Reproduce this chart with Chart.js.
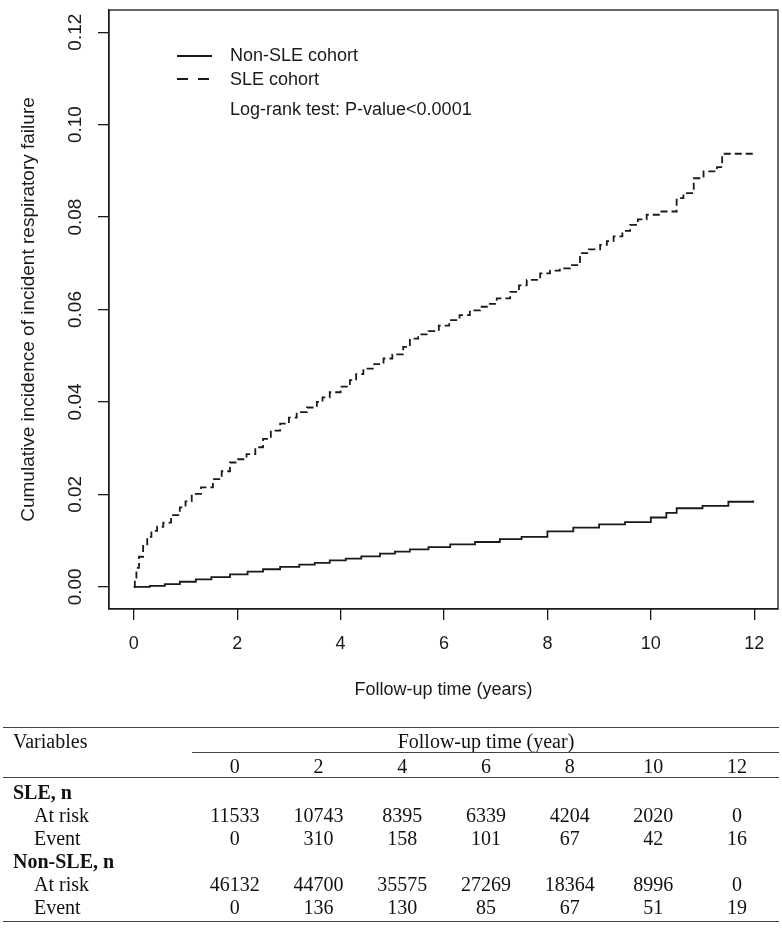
<!DOCTYPE html>
<html>
<head>
<meta charset="utf-8">
<script src="https://cdn.jsdelivr.net/npm/chart.js@4.4.1/dist/chart.umd.min.js"></script>
<style>
html,body{margin:0;padding:0;background:#fff;}
#wrap{position:relative;width:782px;height:934px;overflow:hidden;}
#chartBox{position:absolute;left:0;top:0;width:782px;height:712px;}
#tbl{position:absolute;left:0;top:0;width:782px;height:934px;font-family:"Liberation Serif","Times New Roman",serif;font-size:20px;color:#111;}
.t{position:absolute;line-height:24px;height:24px;white-space:nowrap;}
.c{text-align:center;width:100px;}
.b{font-weight:bold;}
.rule{position:absolute;height:1px;background:#444;}
</style>
</head>
<body>
<div id="wrap">
  <div id="chartBox"><canvas id="c"></canvas></div>
  <div id="tbl"></div>
</div>
<script>
// ---------- data ----------
const sleTimes = [0,0.02,0.05,0.1,0.18,0.26,0.34,0.45,0.57,0.72,0.89,1.0,1.12,1.3,1.53,1.7,1.86,2.0,2.18,2.35,2.5,2.65,2.83,3.0,3.15,3.35,3.54,3.65,3.79,4.0,4.18,4.3,4.44,4.65,4.83,5.0,5.21,5.34,5.5,5.7,5.9,6.1,6.3,6.5,6.7,6.85,7.02,7.28,7.45,7.6,7.86,8.05,8.24,8.44,8.63,8.8,9.02,9.15,9.28,9.45,9.6,9.75,9.92,10.18,10.5,10.63,10.83,11.02,11.28,11.38,11.98];
const sleCum   = [0,0.002,0.0041,0.0065,0.0092,0.0108,0.0121,0.013,0.0139,0.0155,0.0172,0.0185,0.0201,0.0215,0.0233,0.025,0.0269,0.0276,0.0287,0.0302,0.032,0.0338,0.0353,0.0366,0.0378,0.0388,0.04,0.041,0.0421,0.0433,0.0447,0.046,0.0472,0.0482,0.0494,0.0503,0.0519,0.0537,0.0546,0.0553,0.0565,0.0577,0.0588,0.0598,0.0606,0.0612,0.0624,0.0638,0.0652,0.0664,0.0678,0.0684,0.0689,0.0696,0.0722,0.073,0.074,0.0748,0.0758,0.077,0.0783,0.0795,0.0805,0.0812,0.0841,0.0852,0.0884,0.0899,0.0908,0.0937,0.0937];
const nonTimes = [0,0.2,0.31,0.6,0.89,1.2,1.5,1.86,2.2,2.5,2.83,3.2,3.5,3.79,4.1,4.4,4.76,5.05,5.34,5.7,6.12,6.6,7.08,7.5,8.0,8.5,9.0,9.5,10.0,10.3,10.5,11.0,11.5,11.98];
const nonCum   = [0,0,0.0002,0.0006,0.0011,0.0016,0.0021,0.0027,0.0033,0.0038,0.0043,0.0048,0.0052,0.0057,0.0061,0.0066,0.0072,0.0076,0.0081,0.0086,0.0092,0.0097,0.0103,0.0108,0.012,0.0128,0.0135,0.014,0.015,0.016,0.017,0.0175,0.0184,0.0187];
const seriesNames = ["Non-SLE cohort","SLE cohort"];
const pValueText = "Log-rank test: P-value<0.0001";
const xTicks = [0,2,4,6,8,10,12];
const yTicks = [0,0.02,0.04,0.06,0.08,0.10,0.12];
const yTickLabels = ["0.00","0.02","0.04","0.06","0.08","0.10","0.12"];
const xTitle = "Follow-up time (years)";
const yTitle = "Cumulative incidence of incident respiratory failure";

const tableYears = [0,2,4,6,8,10,12];
const sleAtRisk = [11533,10743,8395,6339,4204,2020,0];
const sleEvent  = [0,310,158,101,67,42,16];
const nonAtRisk = [46132,44700,35575,27269,18364,8996,0];
const nonEvent  = [0,136,130,85,67,51,19];

// ---------- chart ----------
const FONT = '"Liberation Sans", Arial, sans-serif';
const INK = '#1a1a1a';
const toPts = (xs, ys) => xs.map((x,i)=>({x:x, y:ys[i]}));

const rStyle = {
  id:'rStyle',
  afterDraw(chart){
    const ctx = chart.ctx, a = chart.chartArea;
    const ys = chart.scales.y;
    ctx.save();
    ctx.strokeStyle = INK; ctx.lineWidth = 1.3;
    ctx.strokeRect(a.left, a.top, a.right-a.left, a.bottom-a.top);
    ctx.fillStyle = INK;
    // y tick labels, rotated (R style)
    ctx.font = '19px ' + FONT;
    ctx.textAlign = 'center'; ctx.textBaseline = 'middle';
    yTicks.forEach((v,i)=>{
      const py = ys.getPixelForValue(v);
      ctx.save(); ctx.translate(76, py); ctx.rotate(-Math.PI/2);
      ctx.fillText(yTickLabels[i], 0, 0); ctx.restore();
    });
    // y title
    ctx.save(); ctx.translate(29, (a.top+a.bottom)/2); ctx.rotate(-Math.PI/2);
    ctx.font = '19px ' + FONT; ctx.fillText(yTitle, 0, 0); ctx.restore();
    // x title
    ctx.font = '18px ' + FONT;
    ctx.fillText(xTitle, (a.left+a.right)/2, 690);
    // legend
    ctx.lineWidth = 2; ctx.strokeStyle = INK;
    ctx.beginPath(); ctx.moveTo(177,56); ctx.lineTo(212,56); ctx.stroke();
    ctx.setLineDash([11,10]);
    ctx.beginPath(); ctx.moveTo(177,79); ctx.lineTo(212,79); ctx.stroke();
    ctx.setLineDash([]);
    ctx.textAlign = 'left';
    ctx.fillText(seriesNames[0], 230, 56);
    ctx.fillText(seriesNames[1], 230, 80);
    ctx.fillText(pValueText, 230, 110);
    ctx.restore();
  }
};

new Chart(document.getElementById('c'), {
  type:'line',
  data:{
    datasets:[
      {label:seriesNames[0], data:toPts(nonTimes, nonCum), stepped:true, borderColor:INK, borderWidth:1.8, pointRadius:0, fill:false},
      {label:seriesNames[1], data:toPts(sleTimes, sleCum), stepped:true, borderColor:INK, borderWidth:1.8, borderDash:[7,4], pointRadius:0, fill:false}
    ]
  },
  options:{
    responsive:true, maintainAspectRatio:false, animation:false,
    layout:{padding:{left:0, top:10, right:4, bottom:0}},
    plugins:{legend:{display:false}, tooltip:{enabled:false}},
    scales:{
      x:{
        type:'linear', min:-0.48, max:12.46,
        afterBuildTicks:s=>{ s.ticks = xTicks.map(v=>({value:v})); },
        afterFit:s=>{ s.height = 103; },
        grid:{display:true, drawOnChartArea:false, drawTicks:true, tickLength:11, color:INK, lineWidth:1.3},
        border:{display:true, color:INK, width:1.3},
        ticks:{font:{family:FONT, size:18}, color:INK, padding:13, maxRotation:0, autoSkip:false}
      },
      y:{
        type:'linear', min:-0.0048, max:0.1248,
        afterBuildTicks:s=>{ s.ticks = yTicks.map(v=>({value:v})); },
        afterFit:s=>{ s.width = 109; },
        grid:{display:true, drawOnChartArea:false, drawTicks:true, tickLength:11, color:INK, lineWidth:1.3},
        border:{display:true, color:INK, width:1.3},
        ticks:{display:false}
      }
    }
  },
  plugins:[rStyle]
});

// ---------- table ----------
const tbl = document.getElementById('tbl');
function txt(s, x, cy, cls){
  const d = document.createElement('div');
  d.className = 't ' + (cls||'');
  d.textContent = s;
  d.style.left = x + 'px';
  d.style.top = (cy - 12) + 'px';
  tbl.appendChild(d);
}
function ctxt(s, cx, cy, cls){ txt(s, cx - 50, cy, 'c ' + (cls||'')); }
function rule(x1, x2, y){
  const d = document.createElement('div');
  d.className = 'rule';
  d.style.left = x1 + 'px'; d.style.width = (x2-x1) + 'px'; d.style.top = y + 'px';
  tbl.appendChild(d);
}
const colStart = 193, colW = 83.7;
const colC = i => colStart + colW*i + colW/2;
rule(3, 779, 727);
txt('Variables', 13, 741);
txt('Follow-up time (year)', 0, 741, ''); 
tbl.lastChild.style.left = '0px'; tbl.lastChild.style.width = '0px';
tbl.removeChild(tbl.lastChild);
(function(){ const d=document.createElement('div'); d.className='t'; d.textContent='Follow-up time (year)';
  d.style.left=colStart+'px'; d.style.width=(779-colStart)+'px'; d.style.textAlign='center'; d.style.top=(741-12)+'px'; tbl.appendChild(d); })();
rule(192, 779, 752);
tableYears.forEach((y,i)=>ctxt(String(y), colC(i), 766));
rule(3, 779, 777);
const rows = [
  {label:'SLE, n', bold:true, vals:null},
  {label:'At risk', vals:sleAtRisk},
  {label:'Event', vals:sleEvent},
  {label:'Non-SLE, n', bold:true, vals:null},
  {label:'At risk', vals:nonAtRisk},
  {label:'Event', vals:nonEvent}
];
rows.forEach((r,k)=>{
  const cy = 792 + 23*k;
  txt(r.label, r.bold ? 13 : 34, cy, r.bold ? 'b' : '');
  if (r.vals) r.vals.forEach((v,i)=>ctxt(String(v), colC(i), cy));
});
rule(3, 779, 921);
</script>
</body>
</html>
